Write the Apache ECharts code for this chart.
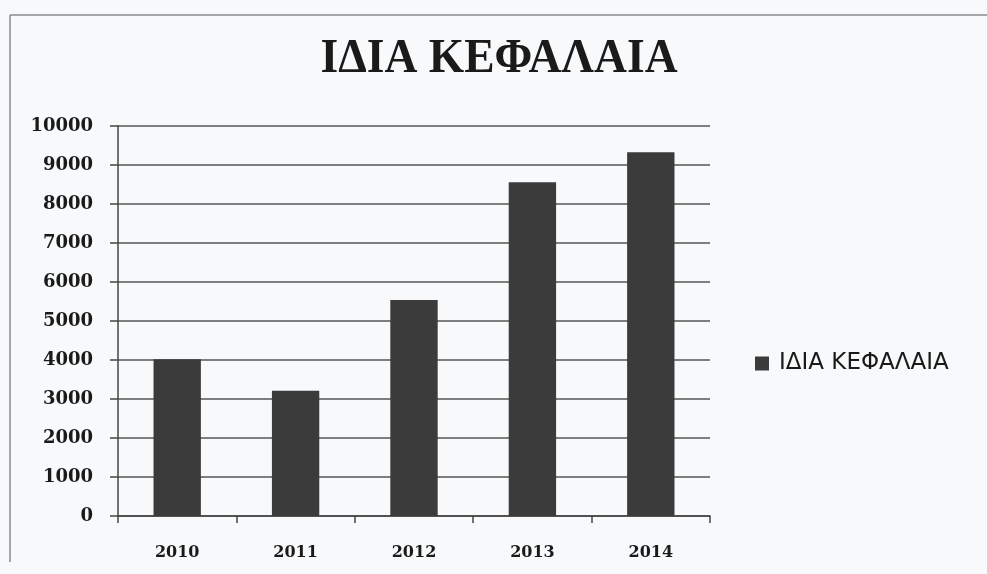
<!DOCTYPE html>
<html>
<head>
<meta charset="utf-8">
<script src="https://cdn.jsdelivr.net/npm/echarts@6/dist/echarts.min.js"></script>
<style>
  html, body { margin: 0; padding: 0; background: #f7f9fb; }
  #chart { width: 987px; height: 574px; }
</style>
</head>
<body>
<div id="chart"></div>
<script>
// Equity per year (ΙΔΙΑ ΚΕΦΑΛΑΙΑ)
const years = ['2010', '2011', '2012', '2013', '2014'];
const equity = [4020, 3210, 5540, 8560, 9330];
const seriesName = 'ΙΔΙΑ ΚΕΦΑΛΑΙΑ';
const chartTitle = 'ΙΔΙΑ ΚΕΦΑΛΑΙΑ';

const chart = echarts.init(document.getElementById('chart'));
chart.setOption({
  backgroundColor: '#f7f9fb',
  animation: false,
  legend: {
    orient: 'vertical',
    left: 750,
    top: 347,
    itemWidth: 14,
    itemHeight: 14,
    itemGap: 10,
    icon: 'rect',
    textStyle: {
      fontFamily: 'DejaVu Sans',
      fontSize: 23,
      color: '#1a1a1a',
      padding: [0, 0, 0, 5]
    },
    data: [seriesName]
  },
  grid: { left: 118, right: 277, top: 126, bottom: 58 },
  xAxis: {
    type: 'category',
    data: years,
    axisLine: { lineStyle: { color: '#444', width: 1.5 } },
    axisTick: { show: true, length: 7, lineStyle: { color: '#444', width: 1.5 } },
    axisLabel: {
      margin: 29,
      fontFamily: 'DejaVu Serif',
      fontWeight: 'bold',
      fontSize: 16,
      color: '#1a1a1a'
    }
  },
  yAxis: {
    type: 'value',
    min: 0,
    max: 10000,
    interval: 1000,
    axisLine: { show: true, lineStyle: { color: '#444', width: 1.5 } },
    axisTick: { show: true, length: 8, lineStyle: { color: '#444', width: 1.5 } },
    splitLine: { lineStyle: { color: '#555', width: 1.5 } },
    axisLabel: {
      margin: 25,
      fontFamily: 'DejaVu Serif',
      fontWeight: 'bold',
      fontSize: 18,
      color: '#1a1a1a',
      formatter: (v) => String(v)
    }
  },
  series: [{
    name: seriesName,
    type: 'bar',
    data: equity,
    barWidth: '40%',
    itemStyle: { color: '#3b3b3b' }
  }],
  graphic: [
    { type: 'line', shape: { x1: 10, y1: 15, x2: 987, y2: 15 }, style: { stroke: '#8a8a8a', lineWidth: 1.5 }, silent: true },
    { type: 'line', shape: { x1: 10, y1: 15, x2: 10, y2: 562 }, style: { stroke: '#8a8a8a', lineWidth: 1.5 }, silent: true },
    {
      type: 'text',
      x: 499,
      y: 59,
      scaleX: 0.93,
      scaleY: 1.0,
      style: {
        text: chartTitle,
        fontFamily: 'Liberation Serif',
        fontWeight: 'bold',
        fontSize: 49,
        fill: '#1a1a1a',
        align: 'center',
        verticalAlign: 'middle'
      },
      silent: true
    }
  ]
});
</script>
</body>
</html>
